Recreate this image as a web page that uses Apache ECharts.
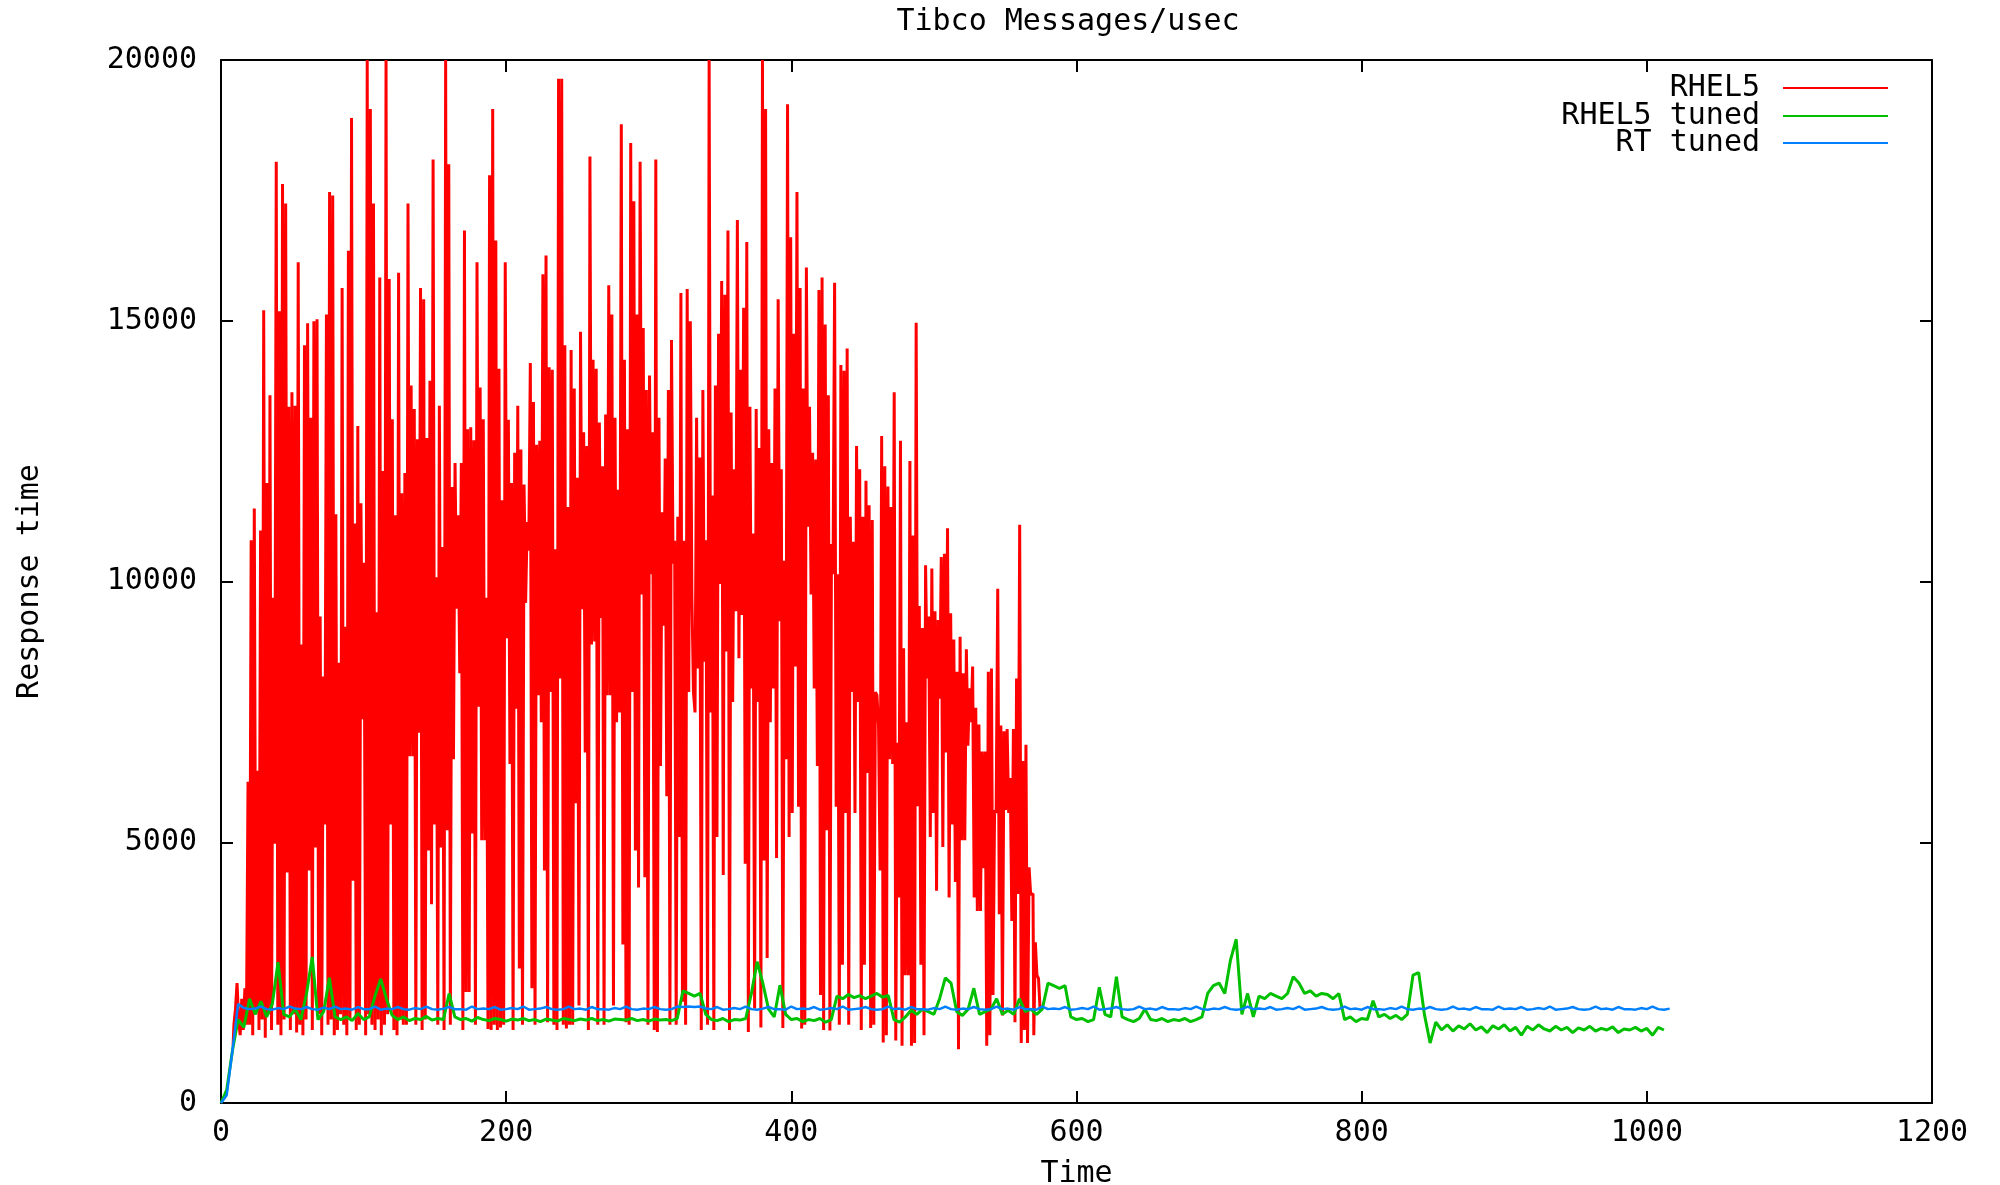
<!DOCTYPE html>
<html>
<head>
<meta charset="utf-8">
<script src="https://cdn.jsdelivr.net/npm/echarts@6/dist/echarts.min.js"></script>
<style>
html,body{margin:0;padding:0;background:#fff;}
#chart{width:2000px;height:1185px;}
</style>
</head>
<body>
<div id="chart"></div>
<script>
// ---- data ----
const chartTitle = 'Tibco Messages/usec';
const xTicks = [0, 200, 400, 600, 800, 1000, 1200];
const yTicks = [0, 5000, 10000, 15000, 20000];
const seriesNames = ['RHEL5', 'RHEL5 tuned', 'RT tuned'];

// RHEL5: samples every 1.1 time units starting at 8.5
const rhel5Start = 8.5, rhel5Step = 1.1;
const rhel5Early = [1100, 1500, 1800, 2300, 1600, 1300, 2000, 1400, 2200, 1500];
const rhel5Peaks = [
  6160, 10790, 11400, 6370, 10980, 15200, 11890, 13570, 9690, 18050,
  15180, 17620, 17250, 13350, 13630, 13370, 16120, 8790, 14530, 14950,
  13140, 14990, 15030, 9330, 8180, 15120, 17470, 17400, 11290, 8440,
  15630, 9130, 16340, 18890, 11110, 12980, 11500, 10360, 20000, 19060,
  17250, 9410, 15830, 12120, 20000, 15800, 13110, 11270, 15920, 11690,
  12080, 17250, 13760, 13310, 12730, 15630, 15410, 12750, 13850, 18090,
  10080, 13370, 10660, 20000, 18000, 11810, 12270, 11270, 12270, 16730,
  12920, 12960, 12710, 16120, 13720, 13110, 9690, 17790, 19060, 16540,
  14080, 11560, 16120, 13100, 11890, 12470, 13370, 12530, 11860, 11140,
  14190, 13440, 12620, 12700, 15890, 16250, 14110, 14060, 10620, 19640,
  19640, 14530, 11430,
  14440, 13700, 11990, 14790, 12860, 12600, 18150, 14250, 14080, 13050,
  12210, 13200, 15680, 15120, 13140, 11760, 18770, 14250, 12920, 18410,
  17290, 15120, 18050, 14860, 13670, 13950, 12860, 18090, 13140, 11330,
  12360, 13670, 14630, 10780, 11240, 15530, 10780, 15610, 14990, 7880,
  13140, 12380, 13670, 10790, 20000, 11650, 13760, 14750, 15760, 15500,
  16730, 13240, 12150,
  16930, 14060, 15250, 16510, 13350, 10920, 13310, 12560, 20000, 19060,
  12920, 12270, 13700, 15410, 12150, 10400, 19150, 16600, 14750, 17470,
  15630, 13700, 16020, 13350, 12470, 12340, 15590, 15830, 14930, 13570,
  10720, 15730, 10140, 14150, 14040, 14470, 11240, 10760, 12600, 12150,
  11240, 11930, 11460, 11180, 7880, 7240, 12790, 12210, 11820, 11430,
  13630, 6910, 12700,
  8720, 7300, 12310, 10880, 14960, 9530, 9110, 10310, 9330, 10250,
  9430, 9260, 10470, 10530, 11020, 9390, 8890, 8270, 8940, 8240,
  8700, 7950, 8370, 7580, 7260, 6740, 6740, 8270, 8330, 5620,
  9860, 7240, 7130, 7170, 6230, 7170, 8140, 11090, 6560, 6870,
  4520, 4010, 3080, 2390
];
const rhel5Troughs = [
  1500, 1300, 1800, 1400, 1600, 1250, 1700, 1400, 4970, 1500,
  1300, 1600, 4420, 1400, 1700, 1350, 1500, 1300, 1600, 4460,
  1400, 4900, 1700, 1300, 5340, 1500, 1600, 1300, 1400, 1700,
  1500, 1300, 1600, 4260, 1400, 1500, 7360, 1300, 1700, 1500,
  1400, 1600, 1300, 1500, 1700, 5340, 1400, 1300, 1600, 1500,
  1500, 6650, 6650, 1500, 7100, 1400, 1600, 4840, 3810, 5340,
  1500, 4900, 1400, 5230, 1500, 6590, 9480, 8240, 1400, 2130,
  2130, 5170, 1500, 7600, 5040, 5040, 1420, 1400, 1500, 1400,
  1450, 1500, 8910, 6500, 1400, 7560, 2580, 1500, 9590, 10590,
  2200, 1500, 7820, 7300, 4460, 1550, 7880, 1500, 1400, 8140,
  1500, 1430, 1500,
  1500, 5750, 1870, 9470, 6720, 1400, 8790, 8850, 1500, 9300,
  1500, 7820, 7820, 1870, 7300, 7490, 3040, 1550, 1500, 7880,
  4840, 4130, 9750, 4330, 1500, 10140, 1400, 1360, 6460, 9150,
  5880, 1500, 10340, 1500, 5100, 1940, 1500, 7880, 9750, 7490,
  8330, 1400, 8460, 1500, 7490, 1400, 5100, 9950, 4370, 8660,
  1400, 7690, 9430,
  8530, 9360, 4590, 1360, 7950, 1810, 7690, 1450, 4650, 2780,
  7300, 7950, 4700, 9240, 1440, 6590, 5100, 5560, 8370, 5680,
  1430, 1500, 11050, 9750, 7950, 6460, 2070, 1400, 5230, 1390,
  10140, 5680, 1500, 2650, 5560, 1500, 7880, 5560, 7690, 1400,
  2650, 6330, 1440, 1500, 7820, 4460, 1160, 1300, 6590, 6500,
  1200, 3940, 1100,
  2450, 2450, 1100, 1150, 5690, 2650, 1300, 8140, 5100, 5560,
  4070, 7750, 4910, 6720, 3940, 5340, 4240, 1030, 5040, 5040,
  6850, 7300, 3940, 3680, 3680, 4500, 1100, 1300, 2070, 5560,
  3620, 1680, 5620, 5560, 3490, 1550, 4010, 1150, 1400, 1150,
  4000, 1300, 2450, 1800
];

// RHEL5 tuned: samples every 4 time units from 0
const tunedStep = 4;
const rhel5Tuned = [
  0, 250, 1000, 1600, 1450, 2000, 1700, 1950, 1650, 1900,
  2700, 1700, 1650, 1800, 1600, 2100, 2800, 1600, 1750, 2400,
  1650, 1600, 1650, 1580, 1720, 1600, 1650, 2050, 2380, 2000,
  1680, 1600, 1650, 1580, 1620, 1600, 1660, 1590, 1620, 1600,
  2100, 1650, 1600, 1620, 1570, 1640, 1600, 1580, 1620, 1600,
  1570, 1610, 1590, 1620, 1580, 1600, 1560, 1610, 1590, 1570,
  1620, 1600, 1580, 1610, 1590, 1620, 1580, 1600, 1570, 1610,
  1600, 1590, 1620, 1580, 1600, 1570, 1610, 1590, 1600, 1580,
  1620, 2150, 2100, 2050, 2100, 1700, 1600, 1580, 1620, 1560,
  1600, 1590, 1620, 2100, 2710, 2300, 1800, 1650, 2260, 1700,
  1600, 1620, 1560, 1600, 1580, 1620, 1550, 1600, 2050, 2000,
  2080, 2020, 2060, 2000, 2050, 2100, 2030, 2060, 1600, 1550,
  1650, 1780, 1700, 1800, 1750, 1700, 2000, 2400, 2300, 1750,
  1680, 1800, 2200, 1700, 1750, 1800, 2000, 1700, 1780, 1700,
  2000, 1750, 1800, 1700, 1800, 2300, 2250, 2200, 2250, 1650,
  1600, 1620, 1560, 1600, 2220, 1700, 1650, 2420, 1650, 1600,
  1560, 1620, 1800, 1600, 1580, 1620, 1560, 1600, 1580, 1620,
  1560, 1600, 1650, 2100, 2250, 2300, 2100, 2740, 3140, 1700,
  2100, 1650, 2050, 2000, 2100, 2050, 2000, 2100, 2420, 2300,
  2100, 2150, 2050, 2100, 2080, 2000, 2100, 1600, 1650, 1560,
  1620, 1600, 1960, 1650, 1700, 1620, 1680, 1600, 1700, 2450,
  2500, 1700, 1150, 1550, 1400, 1500, 1380, 1480, 1420, 1520,
  1400, 1460, 1350, 1480, 1420, 1500, 1380, 1450, 1300, 1470,
  1400, 1500, 1420, 1380, 1470, 1400, 1450, 1350, 1440, 1400,
  1470, 1380, 1430, 1400, 1460, 1350, 1420, 1400, 1450, 1380,
  1430, 1300, 1450, 1400
];

// RT tuned: samples every 4 time units from 0
const rtStep = 4;
const rtTuned = [
  0, 150, 1000, 1900, 1820, 1800, 1810, 1850, 1800, 1790,
  1820, 1800, 1850, 1810, 1800, 1840, 1800, 1790, 1830, 1800,
  1850, 1800, 1810, 1790, 1840, 1800, 1800, 1850, 1790, 1810,
  1800, 1840, 1800, 1790, 1820, 1800, 1850, 1800, 1790, 1810,
  1840, 1800, 1800, 1790, 1850, 1800, 1810, 1800, 1840, 1790,
  1800, 1820, 1800, 1850, 1790, 1800, 1810, 1840, 1800, 1790,
  1800, 1850, 1800, 1810, 1790, 1840, 1800, 1800, 1790, 1820,
  1800, 1850, 1800, 1790, 1810, 1800, 1840, 1800, 1790, 1800,
  1850, 1840, 1850, 1840, 1850, 1810, 1800, 1840, 1790, 1800,
  1820, 1800, 1850, 1800, 1790, 1810, 1840, 1800, 1800, 1790,
  1850, 1800, 1810, 1800, 1840, 1790, 1800, 1820, 1800, 1850,
  1790, 1800, 1810, 1840, 1800, 1790, 1800, 1850, 1800, 1810,
  1790, 1840, 1800, 1800, 1790, 1820, 1800, 1850, 1800, 1790,
  1810, 1800, 1840, 1800, 1790, 1800, 1850, 1800, 1810, 1790,
  1840, 1800, 1800, 1790, 1850, 1800, 1810, 1800, 1840, 1790,
  1800, 1820, 1800, 1850, 1790, 1800, 1810, 1840, 1800, 1790,
  1800, 1850, 1800, 1810, 1790, 1840, 1800, 1800, 1790, 1820,
  1800, 1850, 1800, 1790, 1810, 1800, 1840, 1800, 1790, 1800,
  1850, 1800, 1810, 1800, 1840, 1790, 1800, 1820, 1800, 1850,
  1790, 1800, 1810, 1840, 1800, 1790, 1800, 1850, 1800, 1810,
  1790, 1840, 1800, 1800, 1790, 1820, 1800, 1850, 1800, 1790,
  1810, 1800, 1840, 1800, 1790, 1800, 1850, 1800, 1810, 1790,
  1840, 1800, 1800, 1790, 1850, 1800, 1810, 1800, 1840, 1790,
  1800, 1820, 1800, 1850, 1790, 1800, 1810, 1840, 1800, 1790,
  1800, 1850, 1800, 1810, 1790, 1840, 1800, 1800, 1790, 1820,
  1800, 1850, 1800, 1790, 1810
];

// ---- build ----
const rhel5 = rhel5Early.slice();
for (let i = 0; i < rhel5Peaks.length; i++) {
  rhel5.push(rhel5Peaks[i]);
  if (i < rhel5Troughs.length) rhel5.push(rhel5Troughs[i]);
}
const rhel5Data = rhel5.map((v, i) => [rhel5Start + i * rhel5Step, v]);
const tunedData = rhel5Tuned.map((v, i) => [i * tunedStep, v]);
const rtData = rtTuned.map((v, i) => [i * rtStep, v]);

const FONT = 'DejaVu Sans Mono';
const FS = 30;
const colors = ['#ff0000', '#00c000', '#0080ff'];

const chart = echarts.init(document.getElementById('chart'), null, {renderer: 'canvas'});

function legendFor(name, top) {
  return {
    data: [name], orient: 'vertical', align: 'right', right: 112, top: top,
    padding: 0, itemWidth: 105, itemHeight: 2, icon: 'rect', selectedMode: false,
    textStyle: {fontFamily: FONT, fontSize: FS, color: '#000', padding: [0, 18, 0, 0], lineHeight: 28}
  };
}

function axisBase() {
  return {
    axisLine: {show: true, onZero: false, lineStyle: {color: '#000', width: 2}},
    axisTick: {show: true, inside: true, length: 12, lineStyle: {color: '#000', width: 2}},
    splitLine: {show: false}
  };
}
const plainNum = v => String(v);

chart.setOption({
  animation: false,
  backgroundColor: '#fff',
  title: {
    text: chartTitle, left: 1063, top: 2, textAlign: 'center',
    textStyle: {fontFamily: FONT, fontSize: FS, fontWeight: 'normal', color: '#000'}
  },
  legend: [legendFor(seriesNames[0], 73), legendFor(seriesNames[1], 101), legendFor(seriesNames[2], 128)],
  grid: {left: 221, right: 68, top: 60, bottom: 82, containLabel: false, outerBoundsMode: 'none'},
  xAxis: [
    Object.assign(axisBase(), {
      type: 'value', min: xTicks[0], max: xTicks[xTicks.length - 1], interval: xTicks[1] - xTicks[0],
      position: 'bottom', name: 'Time', nameLocation: 'middle', nameGap: 56,
      nameTextStyle: {fontFamily: FONT, fontSize: FS, color: '#000'},
      axisLabel: {fontFamily: FONT, fontSize: FS, color: '#000', margin: 15, formatter: plainNum,
                  showMinLabel: true, showMaxLabel: true}
    }),
    Object.assign(axisBase(), {
      type: 'value', min: xTicks[0], max: xTicks[xTicks.length - 1], interval: xTicks[1] - xTicks[0],
      position: 'top', axisLabel: {show: false}
    })
  ],
  yAxis: [
    Object.assign(axisBase(), {
      type: 'value', min: yTicks[0], max: yTicks[yTicks.length - 1], interval: yTicks[1] - yTicks[0],
      position: 'left', name: 'Response time', nameLocation: 'middle', nameGap: 176, nameRotate: 90,
      nameTextStyle: {fontFamily: FONT, fontSize: FS, color: '#000'},
      axisLabel: {fontFamily: FONT, fontSize: FS, color: '#000', margin: 24, formatter: plainNum}
    }),
    Object.assign(axisBase(), {
      type: 'value', min: yTicks[0], max: yTicks[yTicks.length - 1], interval: yTicks[1] - yTicks[0],
      position: 'right', axisLabel: {show: false}
    })
  ],
  series: [
    {name: seriesNames[0], type: 'line', data: rhel5Data, showSymbol: false, symbol: 'none', step: 'middle',
     color: colors[0], lineStyle: {color: colors[0], width: 3}, sampling: null, clip: true},
    {name: seriesNames[1], type: 'line', data: tunedData, showSymbol: false, symbol: 'none',
     color: colors[1], lineStyle: {color: colors[1], width: 3}, clip: true},
    {name: seriesNames[2], type: 'line', data: rtData, showSymbol: false, symbol: 'none',
     color: colors[2], lineStyle: {color: colors[2], width: 2.5}, clip: true}
  ]
});
</script>
</body>
</html>
